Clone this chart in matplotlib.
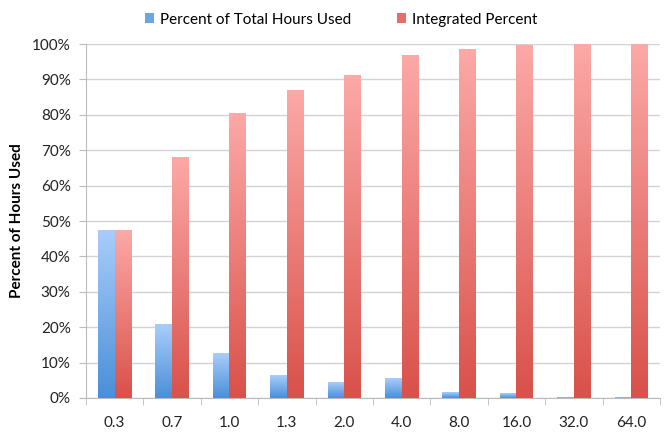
import numpy as np
import matplotlib.pyplot as plt
from matplotlib.colors import LinearSegmentedColormap
from matplotlib.patches import Patch
from matplotlib.ticker import FuncFormatter

categories = ["0.3", "0.7", "1.0", "1.3", "2.0", "4.0", "8.0", "16.0", "32.0", "64.0"]
pct_hours = [47.2, 20.8, 12.5, 6.3, 4.4, 5.6, 1.6, 1.2, 0.2, 0.1]
integrated = [47.2, 68.0, 80.5, 86.8, 91.2, 96.8, 98.4, 99.6, 99.9, 100.0]

plt.rcParams['font.family'] = ['Lato', 'DejaVu Sans']

blue_cmap = LinearSegmentedColormap.from_list("b", ["#4a8fd8", "#a9cdfa"])
red_cmap = LinearSegmentedColormap.from_list("r", ["#d9514a", "#fca9a7"])

fig = plt.figure(figsize=(6.69, 4.34), dpi=100)
ax = fig.add_axes([0.1285, 0.083, 0.858, 0.8155])

x = np.arange(len(categories))
w = 0.29
grad = np.linspace(0, 1, 256).reshape(-1, 1)


def grad_bar(x0, h, cmap):
    if h <= 0:
        return
    ax.imshow(grad, cmap=cmap, origin="lower", aspect="auto",
              extent=(x0, x0 + w, 0, h), zorder=3, interpolation="bilinear")


for i in x:
    grad_bar(i - w, pct_hours[i], blue_cmap)
    grad_bar(i, integrated[i], red_cmap)

ax.set_xlim(-0.5, len(categories) - 0.5)
ax.set_ylim(0, 100)
ax.set_yticks(np.arange(0, 101, 10))
ax.yaxis.set_major_formatter(FuncFormatter(lambda v, p: f"{int(v)}%"))
ax.grid(axis="y", color="#d3d3d3", linewidth=1, zorder=0)
ax.set_axisbelow(True)

ax.set_xticks(x)
ax.set_xticklabels(categories)
ax.set_xticks(np.arange(-0.5, len(categories), 1), minor=True)
ax.tick_params(axis="x", which="major", length=0, pad=13, labelsize=11, colors="#222222")
ax.tick_params(axis="x", which="minor", length=5, color="#bbbbbb")
ax.tick_params(axis="y", length=5, color="#bbbbbb", labelsize=11, colors="#222222", pad=6)

for s in ["top", "right"]:
    ax.spines[s].set_visible(False)
for s in ["left", "bottom"]:
    ax.spines[s].set_color("#bbbbbb")

ax.set_ylabel("Percent of Hours Used", fontsize=11, fontweight="bold", labelpad=6)

handles = [Patch(facecolor="#6aa5e6", label="Percent of Total Hours Used"),
           Patch(facecolor="#e86d66", label="Integrated Percent")]
fig.legend(handles=handles, loc="center", bbox_to_anchor=(0.51, 0.955), ncol=2,
           frameon=False, fontsize=11, handlelength=0.6, handleheight=0.6,
           handletextpad=0.4, columnspacing=3)

fig.savefig("out.png", dpi=100)
